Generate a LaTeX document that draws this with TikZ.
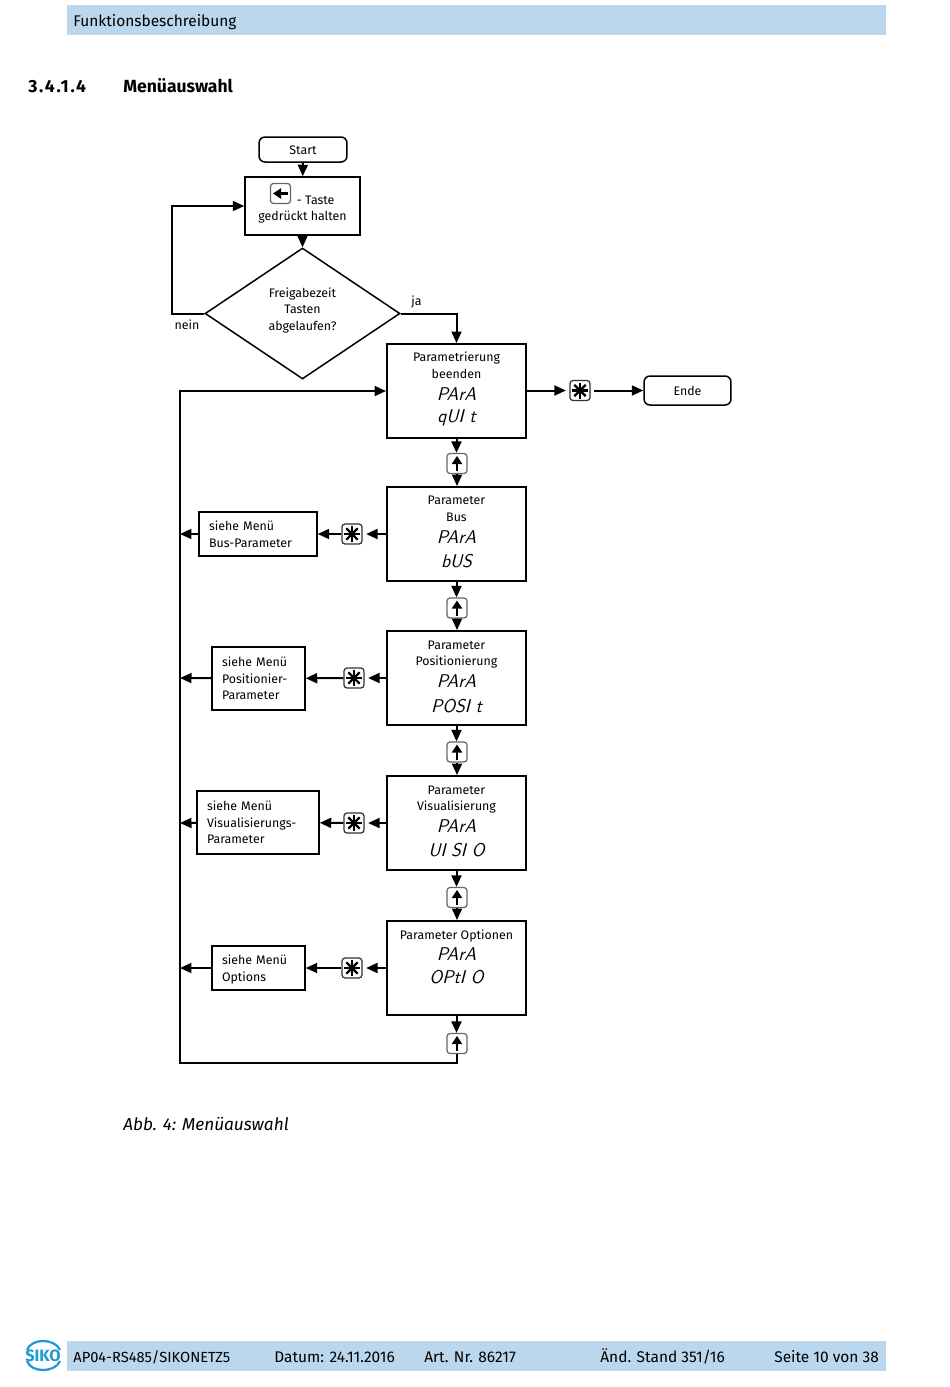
\documentclass[tikz,border=0pt]{standalone}
\usepackage{fontspec}
\setmainfont{Fira Sans}
\newfontfamily\segfont[FakeStretch=0.95,FakeSlant=0.25]{Latin Modern Sans}
\usetikzlibrary{arrows.meta,shapes.geometric}
\definecolor{barblue}{HTML}{BAD7EE}
\definecolor{logoblue}{HTML}{1E9AD6}
\newcommand{\seg}[1]{{\segfont\fontsize{10.5}{12}\selectfont #1}}
\tikzset{
line/.style={line width=0.04cm,-{Triangle[length=0.23cm,width=0.2cm]}},
txt/.style={font=\fontsize{7.05}{9.4}\selectfont,align=center,inner sep=0},
mainbox/.style={txt,draw,line width=0.04cm,minimum width=2.78cm,minimum height=1.88cm},
stepbox/.style={txt,draw,line width=0.03cm},
sidebox/.style={stepbox,align=left,inner xsep=0.2cm,inner ysep=0,anchor=center},
endbox/.style={stepbox,rounded corners=0.12cm},
keybox/.style={draw=black!60,line width=0.025cm,rounded corners=0.06cm,minimum size=0.4cm,inner sep=0},
keyup/.style={keybox,path picture={\draw[black,line width=0.05cm,-{Triangle[length=0.16cm,width=0.2cm]},shift={(path picture bounding box.center)}] (0,7.5)--(0,-7.5);}},
keyleft/.style={keybox,path picture={\draw[black,line width=0.05cm,-{Triangle[length=0.16cm,width=0.2cm]},shift={(path picture bounding box.center)}] (7.5,0)--(-7.5,0);}},
keystar/.style={keybox,draw=black!80,path picture={\foreach \a in {0,45,90,135}{\draw[black,line width=0.045cm,shift={(path picture bounding box.center)}] (\a:8)--(\a+180:8);}}},
bartext/.style={font=\fontsize{8.8}{11}\selectfont,anchor=base west,inner sep=0}
}
\begin{document}
\begin{tikzpicture}[x=0.02cm,y=-0.02cm]
\useasboundingbox (0,0) rectangle (950,1387);
\fill[barblue] (67,5) rectangle (886,35);
\fill[barblue] (67,1341) rectangle (886,1371);
\node[bartext] (head) at (73,26.5) {Funktionsbeschreibung};
\node[bartext,font=\fontsize{10}{12}\selectfont\bfseries\addfontfeature{LetterSpace=10}] (secnum) at (28,92) {3.4.1.4};
\node[bartext,font=\fontsize{10}{12}\selectfont\bfseries] (sectitle) at (123,92) {Menüauswahl};
\node[bartext,font=\fontsize{9.8}{12}\selectfont\itshape] (caption) at (123,1130) {Abb. 4: Menüauswahl};

\node[endbox,minimum width=1.76cm,minimum height=0.5cm] (start) at (303,149.5) {\rule{0pt}{6pt}Start};
\node[stepbox,minimum width=2.3cm,minimum height=1.16cm] (taste) at (302.5,206) {\rule{0pt}{9pt}\hspace*{15pt}- Taste\\gedrückt halten};
\node[keyleft] (tastekey) at (280.5,193.5) {};
\node[diamond,draw,txt,line width=0.03cm,minimum width=3.9cm,minimum height=2.62cm,aspect=1.49] (frei) at (302.5,313.5) {Freigabezeit\\Tasten\\abgelaufen?\rule[-5.2pt]{0pt}{0pt}};
\node[txt] (nein) at (187,325) {nein};
\node[txt] (ja) at (416.5,301.5) {ja};
\coordinate (cleft) at (172,313.5);
\coordinate (cright) at (456.5,313.5);

\node[mainbox] (quit) at (456.5,391) {Parametrierung\\beenden\\[3.5pt]\seg{PArA}\\[2.9pt]\seg{qUI t}\rule[-4.5pt]{0pt}{0pt}};
\node[mainbox] (bus) at (456.5,534) {Parameter\\Bus\\[2.9pt]\seg{PArA}\\[4.6pt]\seg{bUS}\rule[-2.2pt]{0pt}{0pt}};
\node[mainbox] (posit) at (456.5,678) {Parameter\\Positionierung\\[2.9pt]\seg{PArA}\\[4.6pt]\seg{POSI t}\rule[-1.8pt]{0pt}{0pt}};
\node[mainbox] (visu) at (456.5,823) {Parameter\\Visualisierung\\[2.9pt]\seg{PArA}\\[4.1pt]\seg{UI SI O}\rule[-2.2pt]{0pt}{0pt}};
\node[mainbox] (opti) at (456.5,968) {Parameter Optionen\\[2.3pt]\seg{PArA}\\[3.5pt]\seg{OPtI O}\rule[-13pt]{0pt}{0pt}};

\node[keyup] (upa) at (457,463.5) {};
\node[keyup] (upb) at (457,608) {};
\node[keyup] (upc) at (457,752) {};
\node[keyup] (upd) at (457,897.5) {};
\node[keyup] (upe) at (457,1043.5) {};

\node[keystar] (stara) at (580,390.5) {};
\node[keystar] (starb) at (352,534) {};
\node[keystar] (starc) at (354,678) {};
\node[keystar] (stard) at (354,823) {};
\node[keystar] (stare) at (352,968) {};

\node[endbox,minimum width=1.74cm,minimum height=0.58cm] (ende) at (687.5,390.5) {Ende};
\node[sidebox,text width=1.96cm,minimum height=0.88cm] (menub) at (258,534) {siehe Menü\\Bus-Parameter};
\node[sidebox,text width=1.46cm,minimum height=1.26cm] (menuc) at (258.5,678.5) {siehe Menü\\Positionier-\\Parameter};
\node[sidebox,text width=2.04cm,minimum height=1.26cm] (menud) at (258,822.5) {siehe Menü\\Visualisierungs-\\Parameter};
\node[sidebox,text width=1.46cm,minimum height=0.88cm] (menue) at (258.5,968) {\rule{0pt}{7pt}siehe Menü\\Options};

\coordinate (trunkb) at (180,534);
\coordinate (trunkc) at (180,678);
\coordinate (trunkd) at (180,823);
\coordinate (trunke) at (180,968);
\coordinate (trunktop) at (180,391);
\coordinate (trunkbot) at (180,1063);
\coordinate (backbot) at (457,1063);

\draw[line] (start)--(taste);
\draw[line] (taste)--(frei);
\draw[line] (frei.west)--(cleft)--(cleft|-taste.west)--(taste.west);
\draw[line] (frei.east)--(cright)--(quit.north);

\draw[line,shorten >=2pt] (quit.east|-stara)--(stara);
\draw[line,shorten <=2pt] (stara)--(ende);

\draw[line] (quit.south)--(quit.south|-upa.north);
\draw[line] (upa)--(upa|-bus.north);
\draw[line] (bus.south)--(bus.south|-upb.north);
\draw[line] (upb)--(upb|-posit.north);
\draw[line] (posit.south)--(posit.south|-upc.north);
\draw[line] (upc)--(upc|-visu.north);
\draw[line] (visu.south)--(visu.south|-upd.north);
\draw[line] (upd)--(upd|-opti.north);
\draw[line] (opti.south)--(opti.south|-upe.north);

\draw[line,shorten >=2pt] (bus)--(starb);
\draw[line] (starb)--(menub);
\draw[line] (menub)--(trunkb);
\draw[line,shorten >=2pt] (posit)--(starc);
\draw[line] (starc)--(menuc);
\draw[line] (menuc)--(trunkc);
\draw[line,shorten >=2pt] (visu)--(stard);
\draw[line] (stard)--(menud);
\draw[line] (menud)--(trunkd);
\draw[line,shorten >=2pt] (opti)--(stare);
\draw[line] (stare)--(menue);
\draw[line] (menue)--(trunke);

\draw[line] (upe)--(backbot)--(trunkbot)--(trunktop)--(quit.west|-trunktop);

\node[bartext,font=\fontsize{8.35}{11}\selectfont] (fa) at (73,1362) {AP04-RS485/SIKONETZ5};
\node[bartext] (fb) at (274,1362) {Datum: 24.11.2016};
\node[bartext] (fc) at (424,1362) {Art. Nr. 86217};
\node[bartext] (fd) at (600,1362) {Änd. Stand 351/16};
\node[bartext] (fe) at (774,1362) {Seite 10 von 38};

\node[inner sep=0,text=logoblue,font=\fontsize{9.3}{12}\selectfont\bfseries] (logo) at (43,1355.5) {SIKO};
\draw[logoblue,line width=0.045cm] (27,1350) .. controls (31,1338) and (55,1338) .. (60,1350);
\draw[logoblue,line width=0.045cm] (27,1361) .. controls (31,1373) and (55,1373) .. (60,1361);
\end{tikzpicture}
\end{document}
